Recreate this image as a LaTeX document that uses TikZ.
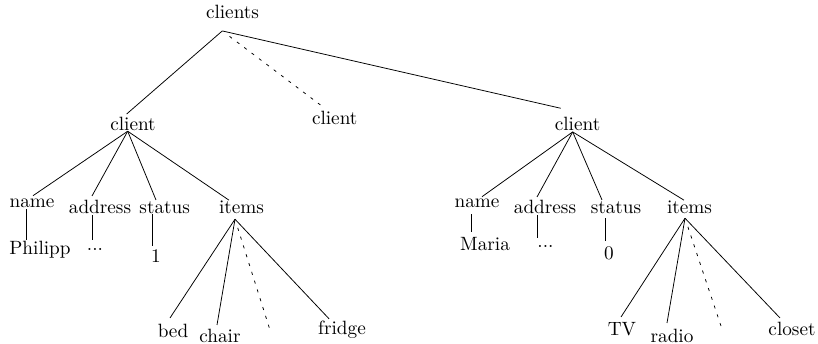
\documentclass[tikz,border=0pt]{standalone}
\usepackage{tikz}

\begin{document}
\begin{tikzpicture}[
        x=0.52pt,
        y=-0.52pt,
        word/.style={
            anchor=base,
            inner sep=0pt,
            outer sep=0pt
        },
        branch/.style={
            thin
        },
        more/.style={
            thin,
            dash pattern=on 1.6pt off 3.2pt,
            dash phase=1.6pt,
            shorten <=1.5pt
        }
    ]

    \useasboundingbox (0,0) rectangle (818,343);

    % root and the clients
    \node[word] (clients) at (232.5,18.3) {clients};
    \node[word] (client1) at (133,130) {client};
    \node[word] (client2) at (334.7,124.3) {client};
    \node[word] (client3) at (577.5,130) {client};

    % first client
    \node[word] (name1) at (32,207.7) {name};
    \node[word] (address1) at (100,213) {address};
    \node[word] (status1) at (164.7,213) {status};
    \node[word] (items1) at (241.5,213) {items};
    \node[word] (philipp) at (40,254) {Philipp};
    \node[word] (dots1) at (95,250) {...};
    \node[word] (one) at (156,262) {1};
    \node[word] (bed) at (173,337) {bed};
    \node[word] (chair) at (220,342) {chair};
    \node[word] (fridge) at (342,334) {fridge};
    \coordinate (more1) at (270,330);

    % second client
    \node[word] (name2) at (477,207.5) {name};
    \node[word] (address2) at (545,213.3) {address};
    \node[word] (status2) at (616,213.3) {status};
    \node[word] (items2) at (689.5,213.3) {items};
    \node[word] (maria) at (485,250.5) {Maria};
    \node[word] (dots2) at (545.5,247.5) {...};
    \node[word] (zero) at (609,259) {0};
    \node[word] (tv) at (622,335) {TV};
    \node[word] (radio) at (672,342) {radio};
    \node[word] (closet) at (792,335) {closet};
    \coordinate (more2) at (722,329);

    % junctions
    \coordinate (clients-j) at ([shift={(-10.2,12.4)}]clients.south);
    \coordinate (client1-j) at ([shift={(-5.3,1)}]client1.south);
    \coordinate (client3-j) at ([shift={(-4.8,1.7)}]client3.south);
    \coordinate (items1-j) at ([shift={(-6.5,6)}]items1.south);
    \coordinate (items2-j) at ([shift={(-4.5,4.7)}]items2.south);

    \draw[branch] (clients-j) -- ([shift={(-6.3,-2.7)}]client1.north);
    \draw[more] (clients-j) -- ([shift={(-12,-4.3)}]client2.north);
    \draw[branch] (clients-j) -- ([shift={(-16.8,-8.4)}]client3.north);

    \draw[branch] (client1-j) -- ([shift={(1,-3.4)}]name1.north);
    \draw[branch] (client1-j) -- ([shift={(-8,-3.7)}]address1.north);
    \draw[branch] (client1-j) -- ([shift={(-8.7,-1.2)}]status1.north);
    \draw[branch] (client1-j) -- ([shift={(-12.5,-0.2)}]items1.north);

    \draw[branch] ([shift={(-5.3,1.3)}]name1.south)
        -- ([shift={(-13.3,-0.7)}]philipp.north);
    \draw[branch] ([shift={(-7.7,2)}]address1.south)
        -- ([shift={(-2.7,-10)}]dots1.base);
    \draw[branch] ([shift={(-12.4,0.5)}]status1.south)
        -- ([shift={(-3.7,-3.6)}]one.north);

    \draw[branch] (items1-j) -- ([shift={(-3,-5.7)}]bed.north);
    \draw[branch] (items1-j) -- ([shift={(-3,-3.7)}]chair.north);
    \draw[more] (items1-j) -- (more1);
    \draw[branch] (items1-j) -- ([shift={(-13,-1.7)}]fridge.north);

    \draw[branch] (client3-j) -- ([shift={(5,-2.2)}]name2.north);
    \draw[branch] (client3-j) -- ([shift={(-8,-3)}]address2.north);
    \draw[branch] (client3-j) -- ([shift={(-14,-1.5)}]status2.north);
    \draw[branch] (client3-j) -- ([shift={(-5.5,-0.5)}]items2.north);

    \draw[branch] ([shift={(-5.3,6.5)}]name2.south)
        -- ([shift={(-13.3,-5.7)}]maria.north);
    \draw[branch] ([shift={(-7.7,1.7)}]address2.south)
        -- ([shift={(-8.2,-9.5)}]dots2.base);
    \draw[branch] ([shift={(-10.3,4.7)}]status2.south)
        -- ([shift={(-3.3,-4.9)}]zero.north);

    \draw[branch] (items2-j) -- ([shift={(-1,-4.9)}]tv.north);
    \draw[branch] (items2-j) -- ([shift={(-5,-5.7)}]radio.north);
    \draw[more] (items2-j) -- (more2);
    \draw[branch] (items2-j) -- ([shift={(-12,-3.7)}]closet.north);

\end{tikzpicture}
\end{document}
